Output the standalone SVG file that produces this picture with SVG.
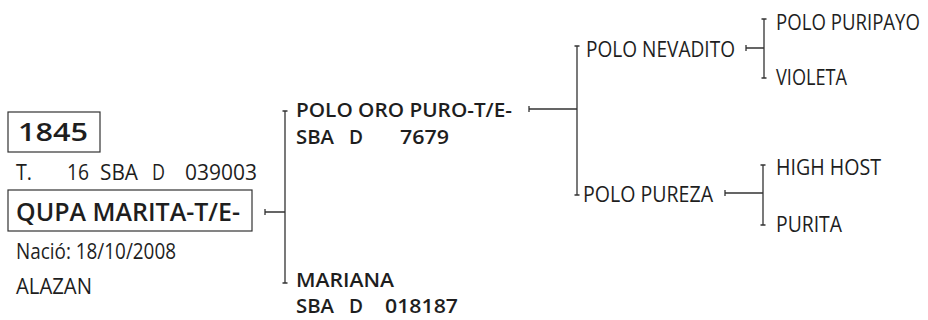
<svg xmlns="http://www.w3.org/2000/svg" width="928" height="320" viewBox="0 0 928 320">
<style>
text{font-family:"Open Sans","Noto Sans","Liberation Sans",sans-serif;fill:#1e1e1e}
.r{font-size:21px}
.b{font-size:20.5px;font-weight:600}
.big{font-size:25px;font-weight:600}
.box{fill:#fff;stroke:#333;stroke-width:1.2}
#connectors path{fill:none;stroke:#333;stroke-width:1.3}
</style>
<rect width="928" height="320" fill="#fff"/>
<g id="n-1845">
<rect class="box" x="8" y="112" width="92" height="40"/>
<text class="big" x="18" y="141" textLength="70" lengthAdjust="spacingAndGlyphs">1845</text>
</g>
<g id="n-reg">
<text class="r" y="180"><tspan x="16" textLength="16" lengthAdjust="spacingAndGlyphs">T.</tspan><tspan x="67" textLength="22" lengthAdjust="spacingAndGlyphs">16</tspan><tspan x="100" textLength="38" lengthAdjust="spacingAndGlyphs">SBA</tspan><tspan x="152" textLength="13" lengthAdjust="spacingAndGlyphs">D</tspan><tspan x="185" textLength="72" lengthAdjust="spacingAndGlyphs">039003</tspan></text>
</g>
<g id="n-qupa">
<rect class="box" x="8" y="190" width="244" height="41"/>
<text class="big" x="16" y="221" textLength="224" lengthAdjust="spacingAndGlyphs">QUPA MARITA-T/E-</text>
</g>
<g id="n-nacio">
<text class="r" x="16" y="259" textLength="160" lengthAdjust="spacingAndGlyphs">Nació: 18/10/2008</text>
</g>
<g id="n-alazan">
<text class="r" x="16" y="294" textLength="76" lengthAdjust="spacingAndGlyphs">ALAZAN</text>
</g>
<g id="n-polo-oro-puro">
<text class="b" x="296" y="117" textLength="216" lengthAdjust="spacingAndGlyphs">POLO ORO PURO-T/E-</text>
<text class="b" y="144"><tspan x="296" textLength="38" lengthAdjust="spacingAndGlyphs">SBA</tspan><tspan x="349" textLength="14" lengthAdjust="spacingAndGlyphs">D</tspan><tspan x="400" textLength="49" lengthAdjust="spacingAndGlyphs">7679</tspan></text>
</g>
<g id="n-mariana">
<text class="b" x="296" y="287" textLength="98" lengthAdjust="spacingAndGlyphs">MARIANA</text>
<text class="b" y="313"><tspan x="296" textLength="38" lengthAdjust="spacingAndGlyphs">SBA</tspan><tspan x="349" textLength="14" lengthAdjust="spacingAndGlyphs">D</tspan><tspan x="385" textLength="73" lengthAdjust="spacingAndGlyphs">018187</tspan></text>
</g>
<g id="n-polo-nevadito">
<text class="r" x="586" y="57" textLength="149" lengthAdjust="spacingAndGlyphs">POLO NEVADITO</text>
</g>
<g id="n-polo-pureza">
<text class="r" x="583" y="202" textLength="130" lengthAdjust="spacingAndGlyphs">POLO PUREZA</text>
</g>
<g id="n-polo-puripayo">
<text transform="translate(776 30) scale(1 1.1)" x="0" y="0" style="font-size:19px" textLength="144" lengthAdjust="spacingAndGlyphs">POLO PURIPAYO</text>
</g>
<g id="n-violeta">
<text class="r" x="776" y="85" textLength="71" lengthAdjust="spacingAndGlyphs">VIOLETA</text>
</g>
<g id="n-high-host">
<text class="r" x="776" y="175" textLength="105" lengthAdjust="spacingAndGlyphs">HIGH HOST</text>
</g>
<g id="n-purita">
<text class="r" x="776" y="232" textLength="66" lengthAdjust="spacingAndGlyphs">PURITA</text>
</g>
<g id="connectors">
<path d="M265 212H285M265 209V215M285 111V283M282.5 111H287.5M282.5 283H287.5"/>
<path d="M529 109H577M529 106V112M577 46V195M574.5 46H579.5M574.5 195H579.5"/>
<path d="M746 48H764M746 45V51M764 19V78M761.5 19H766.5M761.5 78H766.5"/>
<path d="M725 193H763M725 190V196M763 165V225M760.5 165H765.5M760.5 225H765.5"/>
</g>
</svg>
